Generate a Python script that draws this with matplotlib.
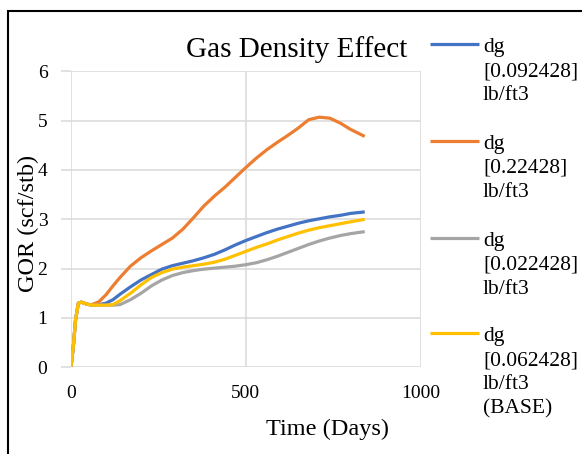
import matplotlib
matplotlib.use("Agg")
import matplotlib.pyplot as plt
from matplotlib.lines import Line2D
from matplotlib.patches import Rectangle

plt.rcParams['font.family'] = ['Liberation Serif', 'DejaVu Serif']

# Time (days) at which the curves were read
days = [0, 7, 13, 21, 30, 45, 60, 80, 100, 120, 140, 170, 200, 230, 260, 290,
        320, 350, 380, 410, 440, 470, 500, 530, 560, 590, 620, 650, 680, 710,
        740, 770, 800, 840]

gor_092 = [0, 0.45, 0.96, 1.3, 1.32, 1.28, 1.26, 1.27, 1.3, 1.37, 1.48, 1.63,
           1.77, 1.88, 1.99, 2.06, 2.11, 2.16, 2.22, 2.29, 2.38, 2.48, 2.57,
           2.65, 2.73, 2.8, 2.86, 2.92, 2.97, 3.01, 3.05, 3.08, 3.12, 3.15]
gor_224 = [0, 0.45, 0.96, 1.3, 1.32, 1.28, 1.27, 1.33, 1.47, 1.65, 1.82, 2.05,
           2.22, 2.36, 2.49, 2.62, 2.8, 3.03, 3.27, 3.47, 3.65, 3.85, 4.05,
           4.24, 4.41, 4.56, 4.7, 4.85, 5.02, 5.07, 5.05, 4.95, 4.82, 4.68]
gor_022 = [0, 0.45, 0.96, 1.3, 1.32, 1.28, 1.26, 1.26, 1.26, 1.26, 1.27, 1.37,
           1.5, 1.65, 1.77, 1.86, 1.92, 1.96, 1.99, 2.01, 2.03, 2.05, 2.08,
           2.12, 2.18, 2.25, 2.33, 2.41, 2.49, 2.56, 2.62, 2.67, 2.71, 2.75]
gor_062 = [0, 0.45, 0.96, 1.3, 1.32, 1.28, 1.26, 1.26, 1.26, 1.27, 1.35, 1.5,
           1.67, 1.82, 1.92, 1.99, 2.03, 2.06, 2.09, 2.13, 2.19, 2.27, 2.35,
           2.43, 2.5, 2.58, 2.65, 2.72, 2.78, 2.83, 2.87, 2.91, 2.95, 3.0]

labels = ['dg\n[0.092428]\nlb/ft3',
          'dg\n[0.22428]\nlb/ft3',
          'dg\n[0.022428]\nlb/ft3',
          'dg\n[0.062428]\nlb/ft3\n(BASE)']
colors = ['#4472C4', '#ED7D31', '#A5A5A5', '#FFC000']
series = [gor_092, gor_224, gor_022, gor_062]

W, H = 582, 454
fig = plt.figure(figsize=(W / 100, H / 100), dpi=100)
ax = fig.add_axes([71 / W, 1 - 367.3 / H, (420.7 - 71) / W, (367.3 - 71.3) / H])

for vals, c in zip(series, colors):
    ax.plot(days, vals, color=c, lw=2.3, solid_capstyle='butt')

ax.set_xlim(0, 1000)
ax.set_ylim(0, 6)
ax.set_xticks([0, 500, 1000])
ax.set_yticks(range(7))
ax.grid(True, color='#D9D9D9', lw=1.1)
ax.set_axisbelow(True)
for s in ax.spines.values():
    s.set_visible(False)
ax.tick_params(axis='y', length=7, color='#D9D9D9', width=1.1, pad=10, labelsize=14)
ax.tick_params(axis='x', length=0, pad=13, labelsize=14)

fig.text(297 / W, 1 - 57 / H, 'Gas Density Effect', fontsize=21,
         ha='center', va='baseline')
fig.text(327 / W, 1 - 435 / H, 'Time (Days)', fontsize=17.5,
         ha='center', va='baseline')
fig.text(28 / W, 1 - 223 / H, 'GOR (scf/stb)', fontsize=17.5,
         rotation=90, ha='center', va='center')

# legend drawn by hand so the line sits beside the first text line
leg_y = [44.3, 141, 237.7, 333.3]
for ly, lab, c in zip(leg_y, labels, colors):
    fig.add_artist(Line2D([430 / W, 479 / W], [1 - ly / H, 1 - ly / H],
                          color=c, lw=2.3, solid_capstyle='butt'))
    for k, part in enumerate(lab.split('\n')):
        fig.text(483 / W, 1 - (ly + 8 + 24 * k) / H, part, fontsize=15.5,
                 ha='left', va='baseline')

# outer frame (cropped on right and bottom)
fig.add_artist(Rectangle((8 / W, -0.1), 1.2, 1.1 - 11 / H,
                         transform=fig.transFigure, fill=False,
                         ec='black', lw=1.5))

fig.savefig('out.png', dpi=100)
